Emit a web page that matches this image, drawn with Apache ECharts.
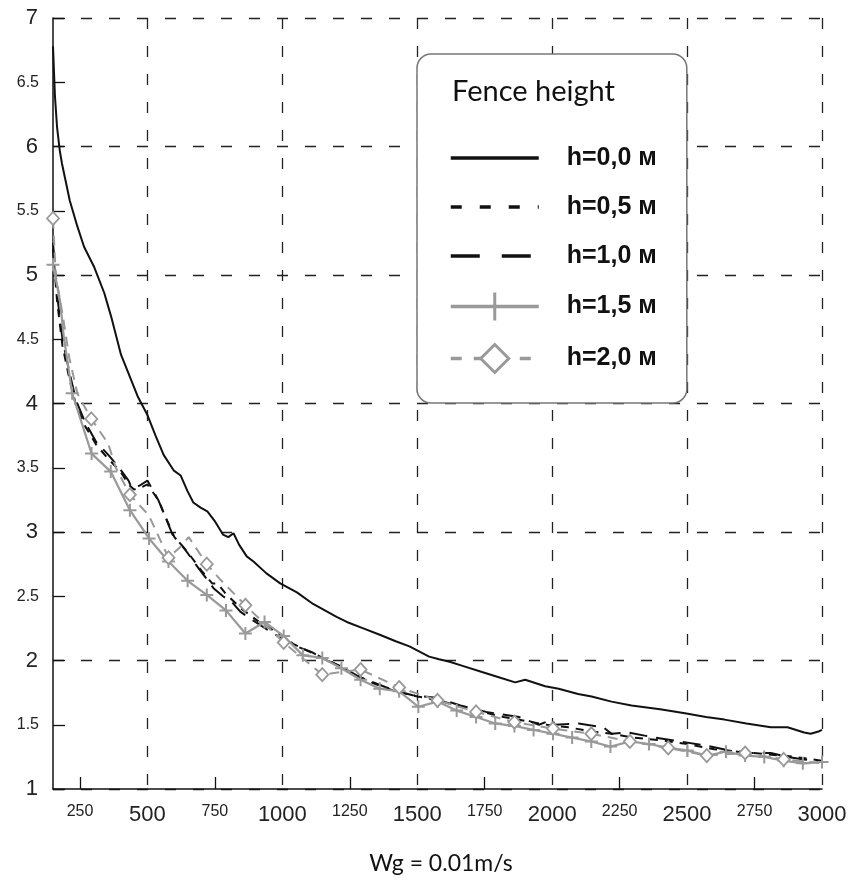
<!DOCTYPE html>
<html><head><meta charset="utf-8">
<script src="https://cdn.jsdelivr.net/npm/echarts@6/dist/echarts.min.js"></script>
<style>html,body{margin:0;padding:0;background:#fff}#c{width:864px;height:885px}</style>
</head><body><div id="c"></div>
<script>
// ---- tick values ----
const xMajor = [500, 1000, 1500, 2000, 2500, 3000];
const xMinor = [250, 750, 1250, 1750, 2250, 2750];
const yMajor = [1, 2, 3, 4, 5, 6, 7];
const yMinor = [1.5, 2.5, 3.5, 4.5, 5.5, 6.5];

// ---- series names ----
const names = ['h=0,0 м', 'h=0,5 м', 'h=1,0 м', 'h=1,5 м', 'h=2,0 м'];

// ---- h=0,0 ----
const x0 = [150,157,165,175,183,200,212,240,265,303,340,365,402,465,500,530,560,597,623,648,670,697,722,751,780,800,819,840,868,893,940,992,1054,1114,1201,1239,1300,1361,1420,1471,1544,1581,1620,1665,1740,1802,1863,1900,1974,2024,2096,2146,2220,2294,2400,2492,2570,2639,2720,2810,2872,2934,2958,2990,3000];
const y0 = [6.78,6.40,6.15,5.97,5.87,5.70,5.58,5.38,5.22,5.06,4.86,4.68,4.38,4.05,3.91,3.75,3.60,3.48,3.44,3.32,3.23,3.19,3.16,3.08,2.98,2.96,2.99,2.90,2.81,2.77,2.68,2.60,2.53,2.44,2.34,2.30,2.25,2.20,2.15,2.11,2.03,2.01,1.99,1.96,1.91,1.87,1.83,1.85,1.80,1.78,1.74,1.72,1.68,1.65,1.62,1.59,1.56,1.54,1.51,1.48,1.48,1.44,1.43,1.45,1.46];

// ---- h=0,5 ----
const x1 = [150,165,185,210,236,270,310,350,400,430,450,480,500,530,545,560,600,650,700,740,760,790,850,920,980,1040,1100,1180,1260,1340,1420,1500,1580,1660,1740,1820,1900,1980,2060,2140,2220,2300,2400,2500,2600,2700,2800,2900,3000];
const y1 = [5.20,4.80,4.45,4.20,3.98,3.82,3.68,3.58,3.47,3.37,3.33,3.35,3.37,3.28,3.23,3.15,2.96,2.84,2.70,2.60,2.60,2.52,2.40,2.29,2.22,2.13,2.07,1.99,1.90,1.82,1.76,1.72,1.69,1.64,1.60,1.56,1.53,1.50,1.48,1.45,1.43,1.40,1.38,1.35,1.31,1.29,1.27,1.25,1.22];

// ---- h=1,0 ----
const x2 = [150,165,185,210,236,270,310,355,395,430,440,470,500,540,556,593,634,685,746,780,815,844,900,966,1028,1065,1114,1165,1212,1287,1410,1483,1570,1660,1755,1877,1951,1999,2010,2098,2190,2220,2282,2381,2474,2565,2657,2717,2810,2872,2934,3000];
const y2 = [5.25,4.85,4.50,4.25,4.02,3.85,3.70,3.60,3.50,3.40,3.35,3.36,3.40,3.25,3.17,2.98,2.88,2.73,2.56,2.50,2.45,2.38,2.30,2.21,2.14,2.10,2.06,2.00,1.96,1.87,1.77,1.73,1.71,1.65,1.60,1.56,1.50,1.54,1.50,1.51,1.48,1.43,1.44,1.40,1.37,1.34,1.30,1.28,1.28,1.25,1.23,1.21];

// ---- h=1,5 (m = marker shown) ----
const x3 = [150,176,190,221,293,364,435,506,578,649,720,791,863,934,1005,1076,1148,1219,1290,1361,1433,1504,1575,1646,1718,1789,1860,1931,2003,2074,2145,2216,2288,2359,2430,2501,2573,2644,2715,2786,2858,2929,3000];
const y3 = [5.08,4.80,4.52,4.08,3.61,3.47,3.17,2.95,2.77,2.62,2.51,2.39,2.21,2.30,2.19,2.04,2.02,1.94,1.85,1.78,1.76,1.64,1.68,1.61,1.56,1.51,1.49,1.46,1.43,1.40,1.37,1.33,1.37,1.35,1.32,1.30,1.26,1.29,1.26,1.25,1.22,1.20,1.21];
const m3 = [1,0,0,1,1,1,1,1,1,1,1,1,1,1,1,1,1,1,1,1,1,1,1,1,1,1,1,1,1,1,1,1,1,1,1,1,1,1,1,1,1,1,1];

// ---- h=2,0 ----
const x4 = [150,160,185,210,240,292,354,383,435,505,578,620,653,720,770,863,1005,1148,1290,1433,1575,1718,1860,2003,2145,2288,2430,2573,2715,2858,3000];
const y4 = [5.44,5.00,4.70,4.36,4.08,3.88,3.69,3.50,3.29,3.13,2.80,2.88,2.96,2.75,2.63,2.43,2.14,1.89,1.93,1.79,1.69,1.60,1.52,1.47,1.43,1.37,1.32,1.26,1.28,1.23,1.20];
const m4 = [1,0,0,0,0,1,0,0,1,0,1,0,0,1,0,1,1,1,1,1,1,1,1,1,1,1,1,1,1,1,0];

const pts = (xs, ys) => xs.map((x, i) => [x, ys[i]]);
const mpts = (xs, ys, ms) => xs.map((x, i) => ms[i] ? [x, ys[i]] : { value: [x, ys[i]], symbol: 'none' });

const chart = echarts.init(document.getElementById('c'), null, { renderer: 'canvas' });
const FONT = 'Liberation Sans';
const gridLine = { show: true, lineStyle: { color: '#222', width: 1.3, type: [11, 17] } };
const PLUS = 'path://M0,-6L0,6M-6,0L6,0';
const plain = v => String(v);

chart.setOption({
  animation: false,
  backgroundColor: '#fff',
  grid: { left: 53, right: 42, top: 18, bottom: 96, containLabel: false },
  xAxis: [
    { type: 'value', min: 150, max: 3000, position: 'bottom',
      axisLine: { show: true, onZero: false, lineStyle: { color: '#111', width: 1.5 } },
      axisTick: { show: false, customValues: xMajor },
      axisLabel: { customValues: xMajor, formatter: plain, fontSize: 22, color: '#222', margin: 15, fontFamily: FONT },
      splitLine: gridLine },
    { type: 'value', min: 150, max: 3000, position: 'bottom',
      axisLine: { show: false, onZero: false },
      axisTick: { show: true, inside: true, length: 12, customValues: xMinor, lineStyle: { color: '#111', width: 1.3 } },
      axisLabel: { customValues: xMinor, formatter: plain, fontSize: 16, color: '#222', margin: 15, fontFamily: FONT },
      splitLine: { show: false } }
  ],
  yAxis: [
    { type: 'value', min: 1, max: 7, interval: 1, position: 'left',
      axisLine: { show: true, onZero: false, lineStyle: { color: '#111', width: 1.5 } },
      axisTick: { show: true, inside: true, length: 12, lineStyle: { color: '#111', width: 1.3 } },
      axisLabel: { formatter: plain, fontSize: 22, color: '#222', margin: 15, fontFamily: FONT },
      splitLine: gridLine },
    { type: 'value', min: 1, max: 7, position: 'left',
      axisLine: { show: false, onZero: false },
      axisTick: { show: true, inside: true, length: 12, customValues: yMinor, lineStyle: { color: '#111', width: 1.3 } },
      axisLabel: { customValues: yMinor, formatter: plain, fontSize: 16, color: '#222', margin: 14, fontFamily: FONT },
      splitLine: { show: false } }
  ],
  legend: {
    orient: 'vertical', left: 417, top: 54,
    padding: [90, 30, 29, 32],
    itemWidth: 88, itemHeight: 35, itemGap: 21,
    selectedMode: false,
    backgroundColor: '#fff', borderColor: '#777', borderWidth: 1.5, borderRadius: 14,
    textStyle: { fontFamily: FONT, fontWeight: 'bold', fontSize: 25, color: '#111', padding: [0, 0, 0, 23] },
    lineStyle: { width: 3.5 },
    data: [
      { name: names[0], itemStyle: { opacity: 0 }, lineStyle: { type: 'solid' } },
      { name: names[1], itemStyle: { opacity: 0 }, lineStyle: { type: [11, 18] } },
      { name: names[2], itemStyle: { opacity: 0 }, lineStyle: { type: [29, 22] } },
      { name: names[3], itemStyle: { borderWidth: 3 } },
      { name: names[4], itemStyle: { borderWidth: 3 }, lineStyle: { type: [11, 12] } }
    ]
  },
  graphic: [
    { type: 'text', z: 100, style: { text: 'Fence height', x: 452, y: 92, textVerticalAlign: 'middle', fontFamily: 'Lato', fontSize: 29, fill: '#111' } },
    { type: 'text', z: 100, style: { text: 'Wg = 0.01m/s', x: 441, y: 864, textAlign: 'center', textVerticalAlign: 'middle', fontFamily: 'Lato', fontSize: 23, fill: '#111' } }
  ],
  series: [
    { name: names[0], type: 'line', symbol: 'none', data: pts(x0, y0),
      lineStyle: { color: '#111', width: 2 }, itemStyle: { color: '#111' } },
    { name: names[1], type: 'line', symbol: 'none', data: pts(x1, y1),
      lineStyle: { color: '#111', width: 2, type: [8, 7] }, itemStyle: { color: '#111' } },
    { name: names[2], type: 'line', symbol: 'none', data: pts(x2, y2),
      lineStyle: { color: '#111', width: 2, type: [18, 9] }, itemStyle: { color: '#111' } },
    { name: names[3], type: 'line', symbol: PLUS, symbolSize: 13, showAllSymbol: true, data: mpts(x3, y3, m3),
      lineStyle: { color: '#999', width: 2.2 }, itemStyle: { color: 'transparent', borderColor: '#999', borderWidth: 2 } },
    { name: names[4], type: 'line', symbol: 'diamond', symbolSize: [12, 13], showAllSymbol: true, data: mpts(x4, y4, m4),
      lineStyle: { color: '#999', width: 2, type: [10, 7] }, itemStyle: { color: '#fff', borderColor: '#999', borderWidth: 1.8 } }
  ]
});
</script></body></html>
